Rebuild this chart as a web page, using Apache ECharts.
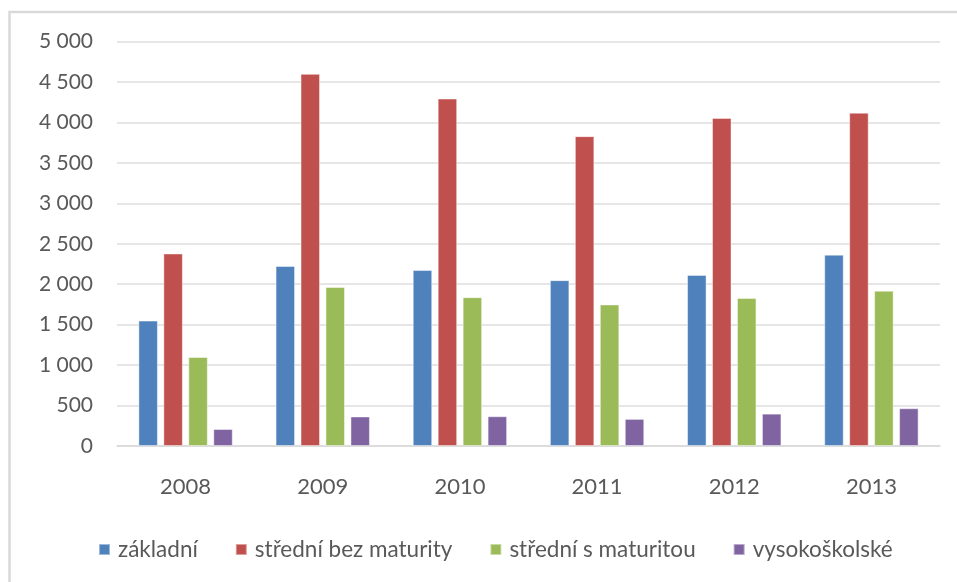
<!DOCTYPE html>
<html>
<head>
<meta charset="utf-8">
<script src="https://cdn.jsdelivr.net/npm/echarts@6/dist/echarts.min.js"></script>
<style>
  html, body { margin: 0; padding: 0; background: #fff; }
  #chart { width: 957px; height: 582px; }
</style>
</head>
<body>
<div id="chart"></div>
<script>
// Years on the category axis
const years = ['2008', '2009', '2010', '2011', '2012', '2013'];

// Values per education level
const zakladni = [1550, 2225, 2175, 2050, 2115, 2365];
const stredniBezMaturity = [2380, 4600, 4295, 3830, 4055, 4120];
const stredniSMaturitou = [1100, 1965, 1840, 1750, 1830, 1920];
const vysokoskolske = [210, 365, 368, 335, 400, 467];

const seriesNames = ['základní', 'střední bez maturity', 'střední s maturitou', 'vysokoškolské'];
const seriesValues = [zakladni, stredniBezMaturity, stredniSMaturitou, vysokoskolske];
const seriesColors = ['#4F81BD', '#C0504D', '#9BBB59', '#8064A2'];

const FONT = 'Lato';
const TEXT_COLOR = '#595959';

const chart = echarts.init(document.getElementById('chart'), null, { renderer: 'canvas' });

chart.setOption({
  animation: false,
  backgroundColor: '#ffffff',
  textStyle: { fontFamily: FONT },
  graphic: [{
    type: 'rect',
    shape: { x: 9.5, y: 12, width: 1000, height: 1000 },
    style: { fill: 'none', stroke: '#d9d9d9', lineWidth: 2.5 },
    silent: true
  }],
  grid: { left: 117, right: 17, top: 41.5, bottom: 136, containLabel: false },
  legend: {
    data: seriesNames,
    left: 98,
    top: 538,
    padding: 0,
    itemWidth: 11,
    itemHeight: 11,
    itemGap: 37,
    icon: 'rect',
    textStyle: { fontFamily: FONT, fontSize: 22.5, color: TEXT_COLOR, padding: [0, 0, 0, 3] }
  },
  xAxis: {
    type: 'category',
    data: years,
    axisLine: { lineStyle: { color: '#d9d9d9', width: 1.5 } },
    axisTick: { show: false },
    axisLabel: { fontFamily: FONT, fontSize: 22, color: TEXT_COLOR, margin: 30 }
  },
  yAxis: {
    type: 'value',
    min: 0,
    max: 5000,
    interval: 500,
    axisLine: { show: false },
    axisTick: { show: false },
    splitLine: { lineStyle: { color: '#dedede', width: 1.5 } },
    axisLabel: {
      fontFamily: FONT,
      fontSize: 21,
      color: TEXT_COLOR,
      margin: 24,
      formatter: v => String(v).replace(/\B(?=(\d{3})+(?!\d))/g, ' ')
    }
  },
  series: seriesNames.map((name, i) => ({
    name: name,
    type: 'bar',
    data: seriesValues[i],
    barWidth: 19.5,
    barGap: '28%',
    itemStyle: {
      color: seriesColors[i],
      borderColor: 'rgba(255,255,255,0.45)',
      borderWidth: 1
    }
  }))
});
</script>
</body>
</html>
